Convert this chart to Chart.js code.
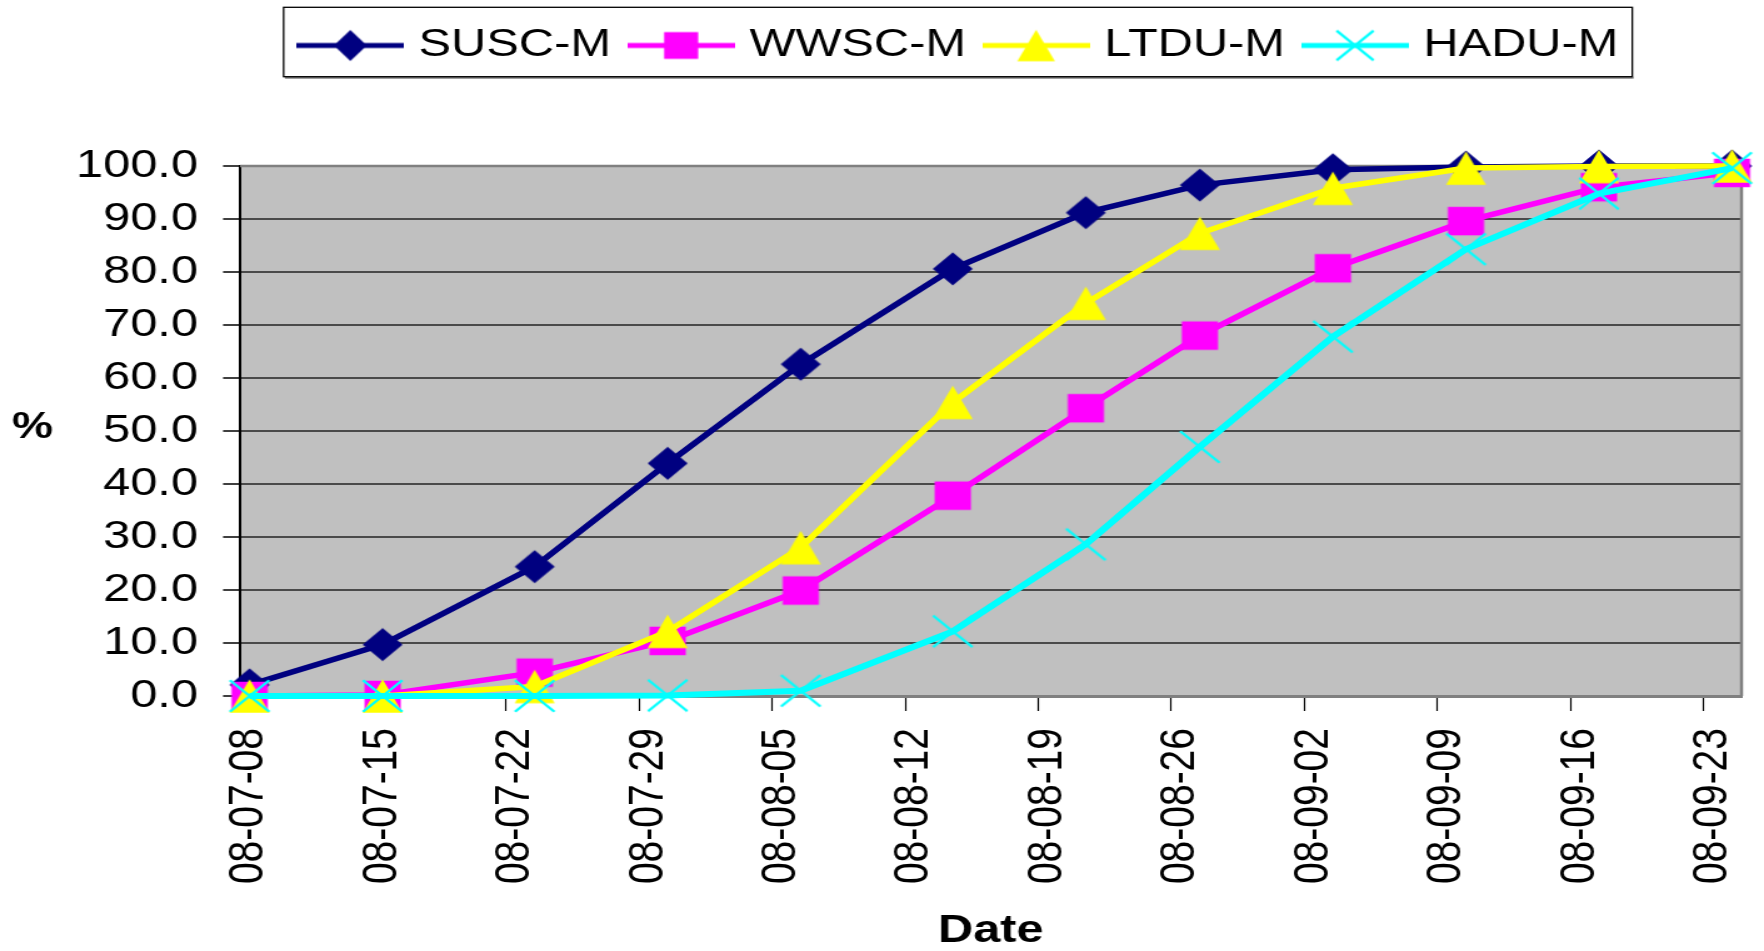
<!DOCTYPE html>
<html>
<head>
<meta charset="utf-8">
<title>Cumulative % by date</title>
<script src="https://cdn.jsdelivr.net/npm/chart.js@4.4.1/dist/chart.umd.min.js"></script>
<style>
  html, body { margin: 0; padding: 0; background: #ffffff; }
  #chart { display: block; }
</style>
</head>
<body>
<!-- the original picture is stretched sideways, so the canvas is drawn narrow and widened by css -->
<canvas id="chart" width="1411" height="951" style="width:1764px;height:951px"></canvas>
<script>
// Sampling dates and axis range
const dates = ['2008-07-08', '2008-07-15', '2008-07-23', '2008-07-30', '2008-08-06', '2008-08-14',
               '2008-08-21', '2008-08-27', '2008-09-03', '2008-09-10', '2008-09-17', '2008-09-24'];
const tickDates = ['2008-07-08', '2008-07-15', '2008-07-22', '2008-07-29', '2008-08-05', '2008-08-12',
                   '2008-08-19', '2008-08-26', '2008-09-02', '2008-09-09', '2008-09-16', '2008-09-23'];
const axisStart = '2008-07-08';
const axisEnd = '2008-09-25';

// Series (%)
const seriesNames = ['SUSC-M', 'WWSC-M', 'LTDU-M', 'HADU-M'];
const suscM = [2.1, 9.7, 24.4, 43.9, 62.6, 80.6, 91.2, 96.4, 99.3, 99.8, 100, 100];
const wwscM = [0, 0.2, 4.4, 10.4, 19.9, 37.8, 54.3, 68.0, 80.7, 89.6, 96.0, 98.7];
const ltduM = [0, 0, 1.8, 12.2, 28.0, 55.4, 74.1, 87.3, 95.8, 99.6, 99.9, 100];
const haduM = [0, 0, 0, 0.1, 1.0, 12.2, 28.6, 47.0, 67.8, 84.3, 94.8, 99.6];

const seriesValues = [suscM, wwscM, ltduM, haduM];
const seriesColors = ['#000080', '#FF00FF', '#FFFF00', '#00FFFF'];
const seriesMarkers = ['diamond', 'square', 'triangle', 'cross'];

const FONT = '"Liberation Sans", Arial, Helvetica, sans-serif';

function dayOf(s) {
    return (Date.parse(s + 'T00:00:00Z') - Date.parse(axisStart + 'T00:00:00Z')) / 86400000;
}

// Excel style markers drawn on small canvases, used as point styles
function makeMarker(kind, color, w, h) {
    const c = document.createElement('canvas');
    c.width = 38;
    c.height = 38;
    const g = c.getContext('2d');
    const cx = 19, cy = 19;
    g.fillStyle = color;
    g.strokeStyle = color;
    g.beginPath();
    if (kind === 'diamond') {
        g.moveTo(cx, cy - h / 2);
        g.lineTo(cx + w / 2, cy);
        g.lineTo(cx, cy + h / 2);
        g.lineTo(cx - w / 2, cy);
        g.closePath();
        g.fill();
    } else if (kind === 'square') {
        g.rect(cx - w / 2, cy - h / 2, w, h);
        g.fill();
    } else if (kind === 'triangle') {
        g.moveTo(cx, cy - h / 2);
        g.lineTo(cx + w / 2, cy + h / 2);
        g.lineTo(cx - w / 2, cy + h / 2);
        g.closePath();
        g.fill();
    } else {
        g.lineWidth = 2.4;
        g.moveTo(cx - w / 2, cy - h / 2);
        g.lineTo(cx + w / 2, cy + h / 2);
        g.moveTo(cx + w / 2, cy - h / 2);
        g.lineTo(cx - w / 2, cy + h / 2);
        g.stroke();
    }
    return c;
}

const markerSizes = {
    diamond: [32, 33],
    square: [29, 28.5],
    triangle: [32, 33.5],
    cross: [31.5, 31.5]
};

const pointImages = seriesMarkers.map((m, i) =>
    makeMarker(m, seriesColors[i], markerSizes[m][0], markerSizes[m][1]));

// legend sample: line with the marker in the middle
const legendImages = seriesMarkers.map((m, i) => {
    const c = document.createElement('canvas');
    c.width = 86;
    c.height = 38;
    const g = c.getContext('2d');
    g.strokeStyle = seriesColors[i];
    g.lineWidth = 5;
    g.beginPath();
    g.moveTo(0, 19);
    g.lineTo(86, 19);
    g.stroke();
    const size = m === 'diamond' ? [26.4, 31] : [markerSizes[m][0] * 0.94, markerSizes[m][1] * 0.94];
    g.drawImage(makeMarker(m, seriesColors[i], size[0], size[1]), 43 - 19, 0);
    return c;
});

const LEGEND_SHIFT = 73;

// plot background, frame, legend box and the "%" label
const excelLook = {
    id: 'excelLook',
    afterLayout(chart) {
        // the legend block sits a little right of the page centre
        chart.legend.left += LEGEND_SHIFT;
        chart.legend.right += LEGEND_SHIFT;
    },
    beforeDraw(chart) {
        const a = chart.chartArea;
        const ctx = chart.ctx;
        ctx.save();
        ctx.fillStyle = '#C0C0C0';
        ctx.fillRect(a.left, a.top, a.right - a.left, a.bottom - a.top);
        ctx.restore();
    },
    beforeDatasetsDraw(chart) {
        const a = chart.chartArea;
        const ctx = chart.ctx;
        ctx.save();
        ctx.strokeStyle = '#808080';
        ctx.lineWidth = 2.5;
        ctx.beginPath();
        ctx.moveTo(a.left, a.top);
        ctx.lineTo(a.right, a.top);
        ctx.lineTo(a.right, a.bottom);
        ctx.stroke();
        ctx.restore();
    },
    afterDraw(chart) {
        const ctx = chart.ctx;
        const a = chart.chartArea;
        const hb = chart.legend.legendHitBoxes;
        ctx.save();
        if (hb && hb.length) {
            const last = hb[hb.length - 1];
            const left = hb[0].left - 18.3;
            const right = last.left + last.width + 11.2;
            const top = hb[0].top - 18.7;
            const bottom = hb[0].top + 50.7;
            ctx.strokeStyle = '#808080';
            ctx.lineWidth = 2;
            ctx.beginPath();
            ctx.moveTo(left + 1, bottom + 1);
            ctx.lineTo(right + 1, bottom + 1);
            ctx.stroke();
            ctx.strokeStyle = '#000000';
            ctx.lineWidth = 1.3;
            ctx.strokeRect(left, top, right - left, bottom - top);
        }
        ctx.fillStyle = '#000000';
        ctx.font = 'bold 37px ' + FONT;
        ctx.textAlign = 'center';
        ctx.textBaseline = 'middle';
        ctx.fillText('%', 26, (a.top + a.bottom) / 2 - 3);
        ctx.restore();
    }
};

const datasets = seriesNames.map((name, i) => ({
    label: name,
    data: dates.map((d, j) => ({ x: dayOf(d) + 0.5, y: seriesValues[i][j] })),
    borderColor: seriesColors[i],
    backgroundColor: seriesColors[i],
    borderWidth: i === 3 ? 6 : 5.5,
    pointStyle: pointImages[i],
    pointRadius: 12,
    pointHoverRadius: 12,
    tension: 0,
    clip: false,
    order: seriesNames.length - i
}));

const chart = new Chart(document.getElementById('chart'), {
    type: 'line',
    data: { datasets: datasets },
    plugins: [excelLook],
    options: {
        responsive: false,
        devicePixelRatio: 1,
        animation: false,
        layout: {
            padding: { left: 0, right: 17.4, top: 5, bottom: 0 }
        },
        plugins: {
            tooltip: { enabled: false },
            legend: {
                position: 'top',
                labels: {
                    usePointStyle: true,
                    pointStyleWidth: 70.2,
                    padding: 21,
                    color: '#000000',
                    font: { family: FONT, size: 39 },
                    generateLabels: function(chart) {
                        return chart.data.datasets.map((ds, i) => ({
                            text: ds.label,
                            pointStyle: legendImages[i],
                            datasetIndex: i,
                            hidden: false,
                            lineWidth: 0,
                            fillStyle: ds.borderColor,
                            strokeStyle: ds.borderColor,
                            fontColor: '#000000'
                        }));
                    }
                }
            },
            // empty title used as a gap between the legend and the plot
            title: {
                display: true,
                text: '',
                weight: 500,
                font: { size: 10, lineHeight: 1 },
                padding: { top: 81, bottom: 0 }
            }
        },
        scales: {
            x: {
                type: 'linear',
                min: dayOf(axisStart),
                max: dayOf(axisEnd),
                afterBuildTicks: function(scale) {
                    scale.ticks = tickDates.map(d => ({ value: dayOf(d) }));
                },
                afterFit: function(scale) {
                    scale.height = 255;
                    scale.paddingLeft = 0;
                    scale.paddingRight = 0;
                },
                ticks: {
                    autoSkip: false,
                    minRotation: 90,
                    maxRotation: 90,
                    padding: 17,
                    labelOffset: 7.6,
                    color: '#000000',
                    font: { family: FONT, size: 39 },
                    callback: function(value, index) {
                        return tickDates[index].slice(2);
                    }
                },
                grid: {
                    drawOnChartArea: false,
                    drawTicks: true,
                    tickLength: 15,
                    tickColor: '#000000',
                    tickWidth: 1.2
                },
                border: { color: '#808080', width: 3 },
                title: {
                    display: true,
                    text: 'Date',
                    color: '#000000',
                    font: { family: FONT, size: 39, weight: 'bold', lineHeight: 1 },
                    padding: { top: 0, bottom: 0.5 }
                }
            },
            y: {
                min: 0,
                max: 100,
                afterFit: function(scale) {
                    scale.width = 192;
                },
                ticks: {
                    stepSize: 10,
                    padding: 20,
                    color: '#000000',
                    font: { family: FONT, size: 39 },
                    callback: function(value) {
                        return value.toFixed(1);
                    }
                },
                grid: {
                    color: '#4a4a4a',
                    lineWidth: 2,
                    tickLength: 13.6,
                    tickColor: '#000000',
                    tickWidth: 1.5
                },
                border: { color: '#000000', width: 2 }
            }
        }
    }
});
</script>
</body>
</html>
